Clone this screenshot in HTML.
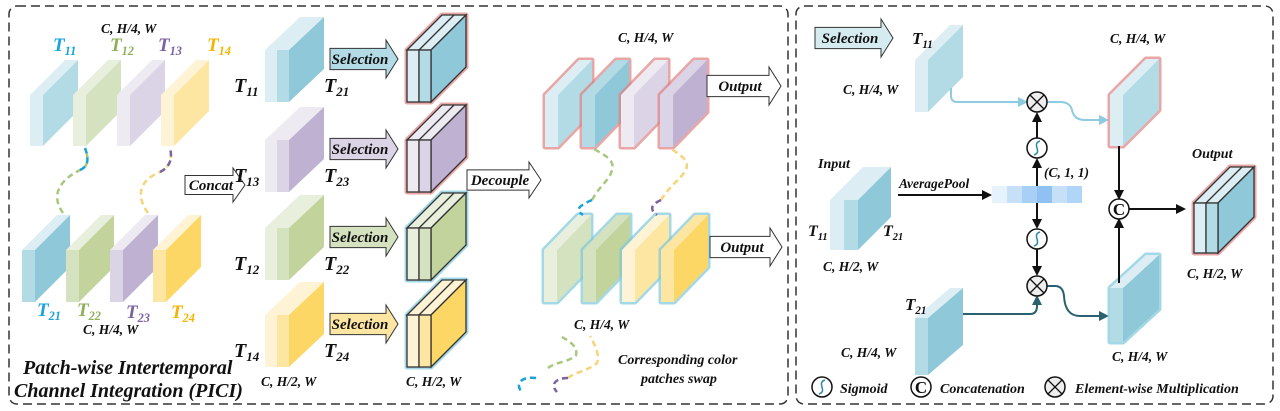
<!DOCTYPE html>
<html><head><meta charset="utf-8"><style>
html,body{margin:0;padding:0;background:#fff;width:1280px;height:411px;overflow:hidden}
svg text{font-family:"Liberation Serif",serif;font-weight:bold;font-style:italic;fill:#111}
</style></head><body>
<svg id="s" width="1280" height="411" viewBox="0 0 1280 411" xmlns="http://www.w3.org/2000/svg">
<defs>
<marker id="ah" markerUnits="userSpaceOnUse" markerWidth="10" markerHeight="10" refX="8" refY="5" orient="auto"><path d="M0,0 L10,5 L0,10 Z" fill="#111"/></marker>
<marker id="ahl" markerUnits="userSpaceOnUse" markerWidth="10" markerHeight="10" refX="8" refY="5" orient="auto"><path d="M0,0 L10,5 L0,10 Z" fill="#8fcbe0"/></marker>
<marker id="ahd" markerUnits="userSpaceOnUse" markerWidth="10" markerHeight="10" refX="8" refY="5" orient="auto"><path d="M0,0 L10,5 L0,10 Z" fill="#2a6070"/></marker>
</defs>
<rect x="9" y="6" width="779" height="398" rx="8" fill="none" stroke="#333" stroke-width="1.5" stroke-dasharray="9,5"/>
<rect x="796" y="6" width="477" height="398" rx="8" fill="none" stroke="#333" stroke-width="1.5" stroke-dasharray="9,5"/>
<g id="g"></g>
<g fill="none" stroke-width="2.5" stroke-dasharray="6,4">
<path d="M63,213 C50,195 60,180 80,170 C90,166 88,156 85,148" stroke="#a8c880"/>
<path d="M148,213 C135,195 140,180 160,172 C172,166 172,156 170,148" stroke="#f5d47a"/>
<path d="M592,200 C600,185 610,180 612,170 C615,160 605,155 592,148" stroke="#a8c880"/>
<path d="M661,200 C670,185 680,180 686,170 C690,160 680,155 670,148" stroke="#f5d47a"/>
<path d="M548,368 C555,362 570,362 576,355 C578,348 572,342 560,336" stroke="#a8c880"/>
<path d="M568,378 C575,372 590,370 597,363 C600,355 595,345 590,336" stroke="#f5d47a"/>
</g>
<g fill="none" stroke-width="2.5" stroke-dasharray="6,4">
<path d="M80,170 C90,166 88,156 85,148" stroke="#1aa3d9"/>
<path d="M160,172 C172,166 172,156 170,148" stroke="#7b62a0"/>
<path d="M592,200 C578,206 575,210 583,215" stroke="#1aa3d9"/>
<path d="M661,200 C650,205 650,210 657,215" stroke="#7b62a0"/>
<path d="M536,378 C520,376 515,385 522,392" stroke="#1aa3d9"/>
<path d="M568,378 C555,378 550,385 557,392" stroke="#7b62a0"/>
</g>
</svg>
<script>
const NS='http://www.w3.org/2000/svg';
const G=document.getElementById('g');
function el(tag,attrs,parent){const e=document.createElementNS(NS,tag);for(const k in attrs)e.setAttribute(k,attrs[k]);(parent||G).appendChild(e);return e;}
function plate(name,x,y,fronts,w,h,dx,dy,side,top,outline,edge){
  const g=el('g',{});
  
  
  const tw=fronts.length*w;
  if(outline){el('path',{d:`M${x},${y} L${x+dx},${y-dy} L${x+tw+dx},${y-dy} L${x+tw+dx},${y+h-dy} L${x+tw},${y+h} L${x},${y+h} Z`,fill:'none',stroke:outline,'stroke-width':5,'stroke-linejoin':'round',opacity:0.7},g);}
  const st=edge?{stroke:'#333','stroke-width':1.3}:{};
  el('polygon',Object.assign({points:`${x},${y} ${x+dx},${y-dy} ${x+tw+dx},${y-dy} ${x+tw},${y}`,fill:top},st),g);
  el('polygon',Object.assign({points:`${x+tw},${y} ${x+tw+dx},${y-dy} ${x+tw+dx},${y+h-dy} ${x+tw},${y+h}`,fill:side},st),g);
  fronts.forEach((f,i)=>{el('rect',Object.assign({x:x+i*w,y:y,width:w,height:h,fill:f},st),g);
    if(edge&&i>0)el('line',{x1:x+i*w+dx,y1:y-dy,x2:x+i*w,y2:y,stroke:'#333','stroke-width':1.3},g);});
  return g;
}
function txt(name,s,x,y,size,color,sub){
  const t=el('text',{x:x,y:y,'font-size':size});
  
  
  if(color)t.setAttribute('style','fill:'+color);
  t.appendChild(document.createTextNode(s));
  if(sub){const ts=el('tspan',{'font-size':size*0.65,dy:4},t);ts.textContent=sub;}
  return t;
}
function bigArrow(name,x,y,w,h,label,fill){
  const g=el('g',{});
  
  
  const b=h*0.22,hw=12;
  el('polygon',{points:`${x},${y+b} ${x+w-hw},${y+b} ${x+w-hw},${y} ${x+w},${y+h/2} ${x+w-hw},${y+h} ${x+w-hw},${y+h-b} ${x},${y+h-b}`,fill:fill,stroke:'#333','stroke-width':1},g);
  const t=el('text',{x:x+(w-hw)/2+2,y:y+h/2+5,'font-size':15,'text-anchor':'middle'},g);t.textContent=label;
}
function circ(name,cx,cy,kind){
  const g=el('g',{});
  
  
  el('circle',{cx:cx,cy:cy,r:10,fill:kind==='x'?'#eee':'#fff',stroke:'#111','stroke-width':1.5},g);
  if(kind==='x'){el('path',{d:`M${cx-7},${cy-7} L${cx+7},${cy+7} M${cx+7},${cy-7} L${cx-7},${cy+7}`,stroke:'#111','stroke-width':1.3},g);}
  else if(kind==='s'){el('path',{d:`M${cx-3},${cy+7} C${cx+6},${cy+4} ${cx-6},${cy-4} ${cx+3},${cy-7}`,stroke:'#2a8aa8','stroke-width':1.5,fill:'none'},g);}
  else {const t=el('text',{x:cx,y:cy+6,'font-size':17,'text-anchor':'middle',style:'font-style:normal'},g);t.textContent='C';}
}
const B=['#dceef3','#b3dbe5','#8fc8d8'],GR=['#e8efdc','#d5e2bf','#c2d39c'],P=['#eeeaf2','#dbd3e6','#bfb1d1'],Y=['#fef4d5','#fde6a2','#fdd765'];
[['t11',B,30],['t12',GR,73],['t13',P,117],['t14',Y,161]].forEach(([n,c,x])=>plate('plate-'+n,x,95,[c[0]],13,51,35,35,c[1],c[0],null,false));
[['t21',B,22],['t22',GR,66],['t23',P,110],['t24',Y,153]].forEach(([n,c,x])=>plate('plate-'+n,x,250,[c[1]],13,52,35,35,c[2],c[0],null,false));
txt('label-t11','T',53,51,19,'#1aa3d9','11');txt('label-t12','T',110,51,19,'#8fae5a','12');txt('label-t13','T',158,51,19,'#7b62a0','13');txt('label-t14','T',207,51,19,'#f5b400','14');
txt('label-top-shape','C, H/4, W',101,33,13.5);
txt('label-t21','T',37,316,19,'#1aa3d9','21');txt('label-t22','T',77,316,19,'#8fae5a','22');txt('label-t23','T',126,318,19,'#7b62a0','23');txt('label-t24','T',171,318,19,'#f5b400','24');
txt('label-bottom-shape','C, H/4, W',83,334,13.5);
txt('pici-title-line1','Patch-wise Intertemporal',23,374,20);
txt('pici-title-line2','Channel Integration (PICI)',14,397,20);
bigArrow('concat-arrow',185,168,60,34,'Concat','#fff');
const mid=[['t11-t21',B,50,'T','11','T','21'],['t13-t23',P,140,'T','13','T','23'],['t12-t22',GR,228,'T','12','T','22'],['t14-t24',Y,315,'T','14','T','24']];
mid.forEach(([n,c,y,a,as,b,bs],i)=>{plate('concat-plate-'+n,265,y,[c[0],c[1]],12,52,35,33,c[2],c[0],null,false);
  txt('label-'+n+'-a',a,234,y+42,20,null,as);txt('label-'+n+'-b',b,324,y+42,20,null,bs);
  bigArrow('selection-arrow-'+(i+1),330,y-10,68,38,'Selection',c[1]);
  plate('selected-plate-'+n,407,y,[c[0],c[1]],12,52,35,35,c[2],c[0],i<2?'#e08080':'#7cc8dc',true);});
txt('label-concat-shape','C, H/2, W',261,386,13.5);
txt('label-selected-shape','C, H/2, W',406,386,13.5);
bigArrow('decouple-arrow',467,162,74,36,'Decouple','#fff');
[[545,B[0],B[1]],[582,B[1],B[2]],[621,P[0],P[1]],[660,P[1],P[2]]].forEach(([x,f,s],i)=>plate('output-top-plate-'+(i+1),x,95,[f],13,52,34,35,s,f,'#e08080',false));
[[544,GR[0],GR[1]],[583,GR[1],GR[2]],[622,Y[0],Y[1]],[661,Y[1],Y[2]]].forEach(([x,f,s],i)=>plate('output-bottom-plate-'+(i+1),x,250,[f],13,52,34,35,s,f,'#7cc8dc',false));
txt('label-output-top-shape','C, H/4, W',618,42,13.5);
txt('label-output-bottom-shape','C, H/4, W',574,329,13.5);
bigArrow('output-arrow-top',707,67,74,38,'Output','#fff');
bigArrow('output-arrow-bottom',710,228,72,38,'Output','#fff');
txt('swap-caption-line1','Corresponding color',618,364,14);
txt('swap-caption-line2','patches swap',641,383,14);
bigArrow('selection-arrow-detail',815,19,78,38,'Selection','#d5ebf0');
plate('detail-plate-t11',915,60,[B[0]],13,52,35,35,B[1],B[0],null,false);
txt('detail-label-t11','T',912,44,17,null,'11');
txt('detail-label-t11-shape','C, H/4, W',843,94,13.5);
plate('detail-input-plate',830,200,[B[0],B[1]],14,50,33,33,B[2],B[0],null,false);
txt('detail-label-input','Input',818,168,14);
txt('detail-label-input-t11','T',808,236,16,null,'11');
txt('detail-label-input-t21','T',883,236,16,null,'21');
txt('detail-label-input-shape','C, H/2, W',823,271,13.5);
plate('detail-plate-t21',915,318,[B[1]],13,57,35,30,B[2],B[0],null,false);
txt('detail-label-t21','T',905,310,17,null,'21');
txt('detail-label-t21-shape','C, H/4, W',841,357,13.5);
txt('detail-label-avgpool','AveragePool',899,188,13.5);
el('line',{x1:898,y1:195,x2:990,y2:195,stroke:'#111','stroke-width':2,'marker-end':'url(#ah)'});
const bar=el('g',{});


['#e6f2fc','#c6e0f8','#a8d0f6','#8fc2f2','#c6e0f8','#b0d5f6'].forEach((c,i)=>el('rect',{x:992+i*15,y:186,width:15,height:17,fill:c},bar));
txt('detail-label-vector-shape','(C, 1, 1)',1044,177,13.5);
el('path',{d:'M1037,186 L1037,160',stroke:'#111','stroke-width':2,fill:'none','marker-end':'url(#ah)'});
el('path',{d:'M1037,138 L1037,114',stroke:'#111','stroke-width':2,fill:'none','marker-end':'url(#ah)'});
el('path',{d:'M1037,203 L1037,227',stroke:'#111','stroke-width':2,fill:'none','marker-end':'url(#ah)'});
el('path',{d:'M1037,249 L1037,274',stroke:'#111','stroke-width':2,fill:'none','marker-end':'url(#ah)'});
el('path',{d:'M951,88 L951,96 Q951,102 958,102 L1026,102',stroke:'#8fcbe0','stroke-width':2,fill:'none','marker-end':'url(#ahl)'});
el('path',{d:'M1047,102 L1060,102 Q1070,102 1072,110 Q1074,120 1085,120 L1107,120',stroke:'#8fcbe0','stroke-width':2,fill:'none','marker-end':'url(#ahl)'});
el('path',{d:'M963,314 L1030,314 Q1037,314 1037,306 L1037,297',stroke:'#2a6070','stroke-width':2,fill:'none','marker-end':'url(#ahd)'});
el('path',{d:'M1047,286 L1055,286 Q1063,286 1064,296 Q1065,316 1080,316 L1107,316',stroke:'#2a6070','stroke-width':2,fill:'none','marker-end':'url(#ahd)'});
circ('multiply-top',1037,102,'x');circ('sigmoid-top',1037,148,'s');circ('sigmoid-bottom',1037,239,'s');circ('multiply-bottom',1037,286,'x');
plate('detail-out-plate-top',1110,95,[B[0]],13,51,36,36,B[1],B[0],'#e08080',false);
plate('detail-out-plate-bottom',1110,288,[B[1]],13,54,36,33,B[2],B[0],'#7cc8dc',false);
txt('detail-label-top-shape','C, H/4, W',1110,43,13.5);
txt('detail-label-bottom-shape','C, H/4, W',1112,361,13.5);
el('line',{x1:1119,y1:146,x2:1119,y2:198,stroke:'#111','stroke-width':2,'marker-end':'url(#ah)'});
el('line',{x1:1119,y1:283,x2:1119,y2:220,stroke:'#111','stroke-width':2,'marker-end':'url(#ah)'});
el('line',{x1:1129,y1:209,x2:1184,y2:209,stroke:'#111','stroke-width':2,'marker-end':'url(#ah)'});
circ('concat-op',1119,209,'c');
plate('detail-output-plate',1194,203,[B[0],B[1]],12,50,36,36,B[2],B[0],'#e08080',true);
txt('detail-label-output','Output',1192,158,14);
txt('detail-label-output-shape','C, H/2, W',1187,278,13.5);
circ('legend-sigmoid-icon',822,387,'s');txt('legend-sigmoid','Sigmoid',840,393,14);
circ('legend-concat-icon',921,387,'c');txt('legend-concatenation','Concatenation',940,393,14);
circ('legend-multiply-icon',1055,387,'x');txt('legend-multiplication','Element-wise  Multiplication',1075,393,14);
</script>
</body></html>
